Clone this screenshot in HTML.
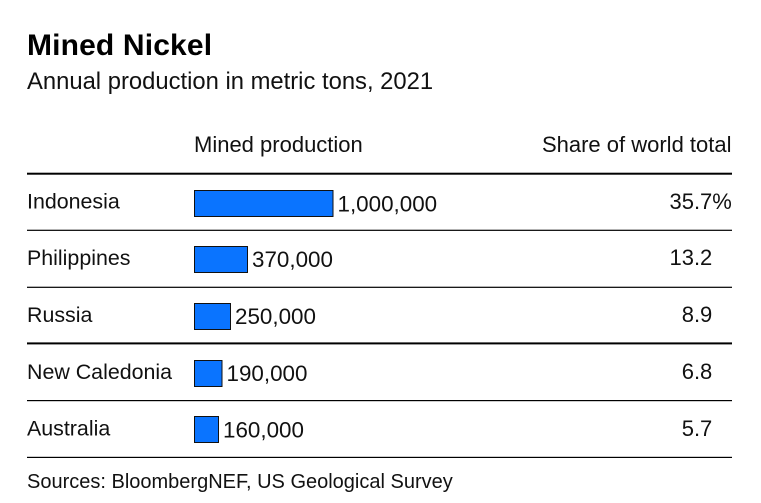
<!DOCTYPE html>
<html>
<head>
<meta charset="utf-8">
<style>
  html, body { margin: 0; padding: 0; background: #fff; }
  svg { display: block; }
  text { font-family: "Liberation Sans", Arial, sans-serif; fill: #111; }
</style>
</head>
<body>
<svg width="761" height="503" viewBox="0 0 761 503" xmlns="http://www.w3.org/2000/svg">
  <rect x="0" y="0" width="761" height="503" fill="#fff"/>

  <!-- Title -->
  <text x="27" y="55" font-size="30" font-weight="bold" letter-spacing="0.15" style="fill:#000">Mined Nickel</text>
  <text x="27" y="89" font-size="23.8">Annual production in metric tons, 2021</text>

  <!-- Column headers -->
  <text x="194" y="152" font-size="22">Mined production</text>
  <text x="731.5" y="152" font-size="22" text-anchor="end">Share of world total</text>

  <!-- Rules -->
  <rect x="27" y="172.7" width="705" height="2" fill="#000"/>
  <rect x="27" y="229.7" width="705" height="1.2" fill="#000"/>
  <rect x="27" y="286.7" width="705" height="1.2" fill="#000"/>
  <rect x="27" y="342.4" width="705" height="2" fill="#000"/>
  <rect x="27" y="400" width="705" height="1.2" fill="#000"/>
  <rect x="27" y="456.8" width="705" height="1.2" fill="#000"/>

  <!-- Row labels -->
  <text x="27" y="208.5" font-size="21.4">Indonesia</text>
  <text x="27" y="265" font-size="21.4">Philippines</text>
  <text x="27" y="322" font-size="21.4">Russia</text>
  <text x="27" y="379" font-size="21.4">New Caledonia</text>
  <text x="27" y="435.5" font-size="21.4">Australia</text>

  <!-- Bars -->
  <g fill="#0a74ff" stroke="#111" stroke-width="1">
    <rect x="194.5" y="190.5" width="138.5" height="26"/>
    <rect x="194.5" y="246.5" width="53" height="26"/>
    <rect x="194.5" y="303.5" width="36" height="26"/>
    <rect x="194.5" y="360.5" width="27.5" height="26"/>
    <rect x="194.5" y="416.5" width="24" height="26"/>
  </g>

  <!-- Values -->
  <text x="337.5" y="211.5" font-size="22.4">1,000,000</text>
  <text x="252" y="267" font-size="22.4">370,000</text>
  <text x="235" y="324" font-size="22.4">250,000</text>
  <text x="226.5" y="381" font-size="22.4">190,000</text>
  <text x="223" y="437.5" font-size="22.4">160,000</text>

  <!-- Shares -->
  <text x="712.3" y="209" font-size="22" text-anchor="end">35.7</text>
  <text x="712.3" y="209" font-size="22">%</text>
  <text x="712.3" y="265" font-size="22" text-anchor="end">13.2</text>
  <text x="712.3" y="322" font-size="22" text-anchor="end">8.9</text>
  <text x="712.3" y="379" font-size="22" text-anchor="end">6.8</text>
  <text x="712.3" y="436" font-size="22" text-anchor="end">5.7</text>

  <!-- Source -->
  <text x="27" y="488" font-size="20">Sources: BloombergNEF, US Geological Survey</text>
</svg>
</body>
</html>
